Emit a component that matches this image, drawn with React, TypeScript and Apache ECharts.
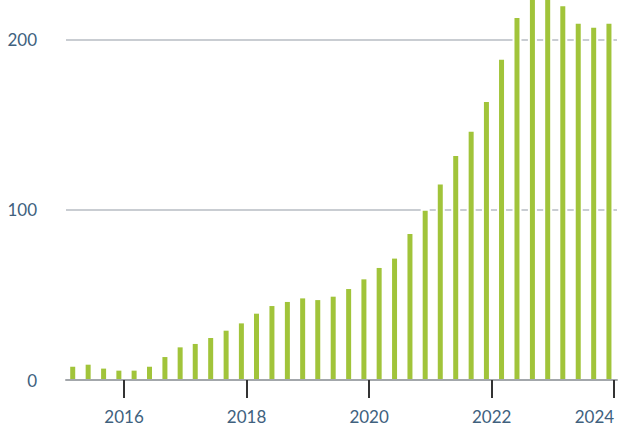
import React, { useEffect, useRef } from "react";
import * as echarts from "echarts";

const quarters: string[] = [
  "2015-03-01", "2015-06-01", "2015-09-01", "2015-12-01",
  "2016-03-01", "2016-06-01", "2016-09-01", "2016-12-01",
  "2017-03-01", "2017-06-01", "2017-09-01", "2017-12-01",
  "2018-03-01", "2018-06-01", "2018-09-01", "2018-12-01",
  "2019-03-01", "2019-06-01", "2019-09-01", "2019-12-01",
  "2020-03-01", "2020-06-01", "2020-09-01", "2020-12-01",
  "2021-03-01", "2021-06-01", "2021-09-01", "2021-12-01",
  "2022-03-01", "2022-06-01", "2022-09-01", "2022-12-01",
  "2023-03-01", "2023-06-01", "2023-09-01", "2023-12-01",
];

const values: number[] = [
  7.8, 9.0, 6.7, 5.5,
  5.5, 7.8, 13.5, 19.2,
  21.2, 24.7, 29, 33.3,
  39, 43.5, 45.9, 48,
  47, 49, 53.5, 59.2,
  65.9, 71.4, 85.9, 99.5,
  115, 131.8, 146, 163.5,
  188.4, 212.9, 230, 228,
  219.8, 209.6, 207.2, 209.6,
];

const yearTicks: number[] = [2016, 2018, 2020, 2022, 2024];

function toYear(d: string): number {
  const dt = new Date(d + "T00:00:00Z");
  const y = dt.getUTCFullYear();
  const start = Date.UTC(y, 0, 1);
  const end = Date.UTC(y + 1, 0, 1);
  return y + (dt.getTime() - start) / (end - start);
}

export default function App() {
  const ref = useRef<HTMLDivElement>(null);
  useEffect(() => {
    if (!ref.current) return;
    const chart = echarts.init(ref.current, null, { renderer: "svg" });
    const labelStyle = {
      fontFamily: "Lato",
      fontSize: 17,
      color: "#40617e",
    };
    chart.setOption({
      animation: false,
      grid: {
        left: 66,
        right: 9,
        top: 0,
        bottom: 52,
        containLabel: false,
        outerBoundsMode: "none",
      },
      xAxis: {
        type: "value",
        min: toYear("2015-01-20"),
        max: toYear("2024-01-18"),
        z: 5,
        axisLine: { show: true, onZero: false, lineStyle: { color: "#a3a7ab", width: 2 } },
        axisTick: {
          show: true,
          customValues: yearTicks,
          length: 18,
          lineStyle: { color: "#333333", width: 2 },
        },
        axisLabel: {
          customValues: yearTicks,
          margin: 28,
          hideOverlap: false,
          alignMaxLabel: "right",
          ...labelStyle,
          formatter: (v: number) => String(Math.round(v)),
        },
        splitLine: { show: false },
      },
      yAxis: {
        type: "value",
        min: 0,
        max: 223.5,
        interval: 100,
        axisLine: { show: false },
        axisTick: { show: false },
        axisLabel: { margin: 29, showMaxLabel: false, ...labelStyle },
        splitLine: {
          show: true,
          showMaxLine: false,
          lineStyle: { color: "#c9cdd2", width: 2 },
        },
      },
      series: [
        {
          type: "custom",
          clip: true,
          data: quarters.map((q, i) => [toYear(q), values[i]]),
          encode: { x: 0, y: 1 },
          renderItem: (params: any, api: any) => {
            const x = api.value(0);
            const v = api.value(1);
            const top = api.coord([x, v]);
            const base = api.coord([x, 0]);
            const h = base[1] - top[1];
            return {
              type: "group",
              children: [
                {
                  type: "rect",
                  shape: { x: top[0] - 4.5, y: top[1] - 2, width: 9, height: h + 2 },
                  style: { fill: "#ffffff" },
                },
                {
                  type: "rect",
                  shape: { x: top[0] - 2.5, y: top[1], width: 5, height: h },
                  style: { fill: "#a1c43a" },
                },
              ],
            };
          },
        },
      ],
    });
    return () => chart.dispose();
  }, []);
  return (
    <div
      ref={ref}
      style={{ position: "fixed", left: 0, top: 0, width: 626, height: 432, background: "#fff" }}
    />
  );
}
